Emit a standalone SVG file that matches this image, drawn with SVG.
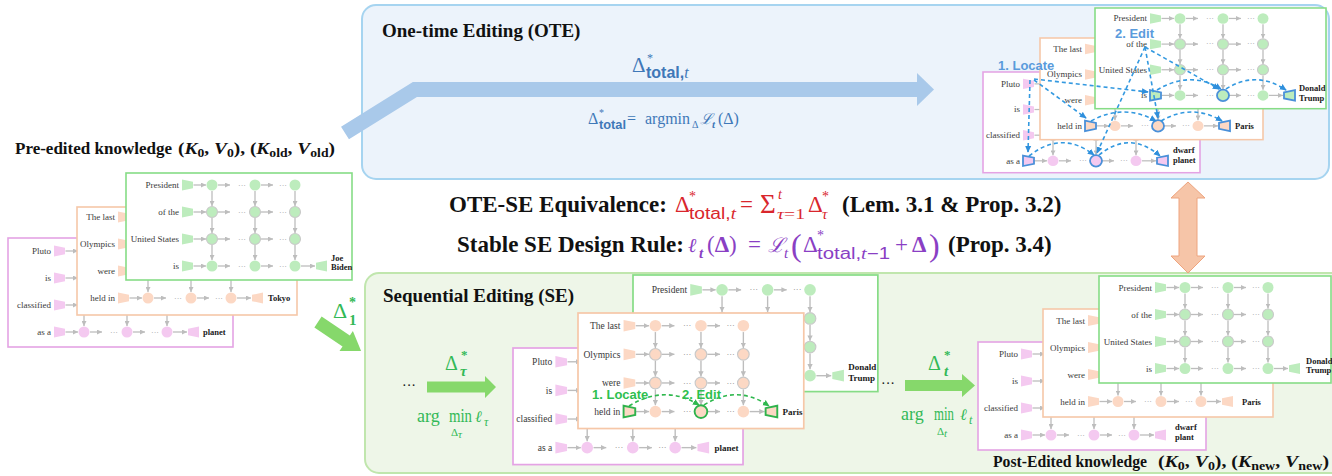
<svg xmlns="http://www.w3.org/2000/svg" xmlns:xlink="http://www.w3.org/1999/xlink" width="1332" height="476" viewBox="0 0 1332 476">
<style>
.lbl{font-family:"Liberation Serif",serif;font-size:9px;fill:#3a3a3a;text-anchor:end}
.out{font-family:"Liberation Serif",serif;font-size:8.5px;font-weight:bold;fill:#1a1a1a}
.ga{stroke:#bdbdbd;stroke-width:1.3;fill:none;marker-end:url(#ah)}
.dots{font-family:"Liberation Sans",sans-serif;font-size:8px;fill:#a0a0a0;text-anchor:middle}
.cm{stroke:#c9c9c9;stroke-width:1.1}
.cg{fill:#fff;stroke:#86dc86;stroke-width:1.6}
.co{fill:#fff;stroke:#f6c7a8;stroke-width:1.6}
.cp{fill:#fff;stroke:#e4a3e4;stroke-width:1.6}
.hb{fill:none;stroke:#4a90d9;stroke-width:1.8}
.hg{fill:none;stroke:#2fb34c;stroke-width:1.8}
.db{fill:none;stroke:#3399e0;stroke-width:1.6;stroke-dasharray:4 3;marker-end:url(#abl)}
.dg{fill:none;stroke:#2fb84e;stroke-width:1.6;stroke-dasharray:4 3;marker-end:url(#agr)}
.hdr{font-family:"Liberation Serif",serif;font-weight:bold;font-size:19px;fill:#111}
.bt{font-family:"Liberation Serif",serif;font-weight:bold;font-size:23px;fill:#111}
.kt{font-family:"Liberation Serif",serif;font-weight:bold;font-size:17px;fill:#111}
.ms{font-family:"Liberation Serif",serif}
.sf{font-family:"Liberation Sans",sans-serif}
.sc{font-family:"DejaVu Serif","Liberation Serif",serif}
.stepB{font-family:"Liberation Sans",sans-serif;font-weight:bold;font-size:13px;fill:#5a9bdc}
.stepG{font-family:"Liberation Sans",sans-serif;font-weight:bold;font-size:13px;fill:#2fbf4f}
.blue{fill:#3f78b8}
.red{fill:#d9262c}
.pur{fill:#8a3fc4}
.grn{fill:#33b957}
</style>
<defs>
<marker id="ah" viewBox="0 0 6 6" refX="6" refY="3" markerWidth="5" markerHeight="5" markerUnits="userSpaceOnUse" orient="auto"><path d="M0,0 L6,3 L0,6 z" fill="#bdbdbd"/></marker>
<marker id="abl" viewBox="0 0 8 8" refX="7" refY="4" markerWidth="7" markerHeight="7" markerUnits="userSpaceOnUse" orient="auto"><path d="M0,0.5 L8,4 L0,7.5 z" fill="#2f8fdc"/></marker>
<marker id="agr" viewBox="0 0 8 8" refX="7" refY="4" markerWidth="7" markerHeight="7" markerUnits="userSpaceOnUse" orient="auto"><path d="M0,0.5 L8,4 L0,7.5 z" fill="#2fb84e"/></marker>
<polygon id="pin" points="0,-5.5 11,-3.2 11,3.2 0,5.5"/>
<polygon id="pout" points="0,-3.2 11,-5.5 11,5.5 0,3.2"/>
<g id="rT">
<use href="#pin"/>
<line class="ga" x1="11.5" y1="0" x2="24" y2="0"/>
<circle cx="30" cy="0" r="5.5"/>
<line class="ga" x1="36" y1="0" x2="48" y2="0"/>
<text class="dots" x="60" y="2.5">···</text>
<circle cx="73" cy="0" r="5.5"/>
<line class="ga" x1="79" y1="0" x2="91" y2="0"/>
<text class="dots" x="101" y="2.5">···</text>
<circle cx="113" cy="0" r="5.5"/>
</g>
<g id="rM">
<use href="#pin"/>
<line class="ga" x1="11.5" y1="0" x2="24" y2="0"/>
<circle class="cm" cx="30" cy="0" r="5.5"/>
<line class="ga" x1="36" y1="0" x2="48" y2="0"/>
<text class="dots" x="60" y="2.5">···</text>
<circle class="cm" cx="73" cy="0" r="5.5"/>
<line class="ga" x1="79" y1="0" x2="91" y2="0"/>
<text class="dots" x="101" y="2.5">···</text>
<circle class="cm" cx="113" cy="0" r="5.5"/>
</g>
<g id="rO">
<use href="#rT"/>
<line class="ga" x1="119" y1="0" x2="133" y2="0"/>
<use href="#pout" x="134"/>
</g>
<g id="vc">
<line class="ga" x1="30" y1="6" x2="30" y2="21"/>
<line class="ga" x1="30" y1="33" x2="30" y2="48"/>
<line class="ga" x1="30" y1="60" x2="30" y2="75"/>
<line class="ga" x1="73" y1="6" x2="73" y2="21"/>
<line class="ga" x1="73" y1="33" x2="73" y2="48"/>
<line class="ga" x1="73" y1="60" x2="73" y2="75"/>
<line class="ga" x1="113" y1="6" x2="113" y2="21"/>
<line class="ga" x1="113" y1="33" x2="113" y2="48"/>
<line class="ga" x1="113" y1="60" x2="113" y2="75"/>
</g>
<g id="bG">
<use href="#vc" x="55" y="13"/>
<g fill="#bdecbd">
<use href="#rT" x="55" y="13"/>
<use href="#rM" x="55" y="40"/>
<use href="#rM" x="55" y="67"/>
<use href="#rO" x="55" y="94"/>
</g>
<text class="lbl" x="52" y="16">President</text>
<text class="lbl" x="52" y="43">of the</text>
<text class="lbl" x="52" y="70">United States</text>
<text class="lbl" x="52" y="97">is</text>
</g>
<g id="bO">
<use href="#vc" x="43" y="13"/>
<g fill="#fcd8c4">
<use href="#rT" x="43" y="13"/>
<use href="#rM" x="43" y="40"/>
<use href="#rM" x="43" y="67"/>
<use href="#rO" x="43" y="94"/>
</g>
<text class="lbl" x="40" y="16">The last</text>
<text class="lbl" x="40" y="43">Olympics</text>
<text class="lbl" x="40" y="70">were</text>
<text class="lbl" x="40" y="97">held in</text>
</g>
<g id="bP">
<use href="#vc" x="43" y="13"/>
<g fill="#f4c9f0">
<use href="#rT" x="43" y="13"/>
<use href="#rM" x="43" y="40"/>
<use href="#rM" x="43" y="67"/>
<use href="#rO" x="43" y="94"/>
</g>
<text class="lbl" x="40" y="16">Pluto</text>
<text class="lbl" x="40" y="43">is</text>
<text class="lbl" x="40" y="70">classified</text>
<text class="lbl" x="40" y="97">as a</text>
</g>
</defs>

<g id="panels">
<rect id="ote-panel" x="362" y="5" width="967" height="174" rx="14" fill="#ecf3fb" stroke="#a6d4f0" stroke-width="2"/>
<rect id="se-panel" x="365" y="273" width="1000" height="200" rx="14" fill="#eef6e8" stroke="#c0e6ad" stroke-width="2"/>
</g>

<g id="pre-edited">
<g id="pre-pink" transform="translate(8,238)"><rect class="cp" width="225" height="109"/><use href="#bP" x="3"/><text class="out" x="195" y="97">planet</text></g>
<g id="pre-orange" transform="translate(77,207)"><rect class="co" width="220" height="108"/><use href="#bO" x="-2" y="-3"/><text class="out" x="191" y="94">Tokyo</text></g>
<g id="pre-green" transform="translate(126,173)"><rect class="cg" width="226" height="107"/><use href="#bG" x="1" y="-1"/><text class="out" x="205" y="88">Joe</text><text class="out" x="205" y="97">Biden</text></g>
</g>

<g id="ote-cards">
<g id="ote-pink" transform="translate(983,72) scale(1,0.95)"><rect class="cp" width="217" height="106"/><use href="#bP" x="-3" y="-0.5"/><text class="out" x="190" y="85">dwarf</text><text class="out" x="190" y="96">planet</text>
<g class="hb"><use href="#pin" x="40" y="93.5"/><circle cx="113" cy="93.5" r="6"/><use href="#pout" x="174" y="93.5"/></g></g>
<g id="ote-orange" transform="translate(1040,38) scale(1,0.95)"><rect class="co" width="223" height="107"/><use href="#bO" x="2" y="-1.5"/><text class="out" x="195" y="95.5">Paris</text>
<g class="hb"><use href="#pin" x="45" y="92.5"/><circle cx="118" cy="92.5" r="6"/><use href="#pout" x="179" y="92.5"/></g></g>
<g id="ote-green" transform="translate(1095,8) scale(1,0.95)"><rect class="cg" width="231" height="106"/><use href="#bG" y="-2"/><text class="out" x="204" y="87">Donald</text><text class="out" x="204" y="98">Trump</text>
<g class="hb"><use href="#pin" x="55" y="92"/><circle cx="128" cy="92" r="6"/><use href="#pout" x="189" y="92"/></g></g>
</g>

<g id="se-cards">
<g id="se-green" transform="translate(633,275) scale(1.06)"><rect class="cg" width="231" height="110"/><use href="#bG" x="-1" y="1"/><text class="out" x="203" y="90">Donald</text><text class="out" x="203" y="100">Trump</text></g>
<g id="se-pink" transform="translate(513,348) scale(1.06)"><rect class="cp" width="217" height="110"/><use href="#bP" x="-3"/><text class="out" x="190" y="97">planet</text></g>
<g id="se-orange" transform="translate(578,313) scale(1.06)"><rect class="co" width="213" height="109"/><use href="#bO" y="-1"/><text class="out" x="193" y="96">Paris</text>
<g class="hg"><use href="#pin" x="43" y="93"/><circle cx="116" cy="93" r="6"/><use href="#pout" x="177" y="93"/></g></g>
</g>

<g id="post-cards">
<g id="post-pink" transform="translate(978,342)"><rect class="cp" width="228" height="108"/><use href="#bP" y="-1"/><text class="out" x="197" y="88">dwarf</text><text class="out" x="197" y="98">plant</text></g>
<g id="post-orange" transform="translate(1043,309)"><rect class="co" width="230" height="108"/><use href="#bO" x="2" y="-1.5"/><text class="out" x="199" y="95.5">Paris</text></g>
<g id="post-green" transform="translate(1099,276)"><rect class="cg" width="232" height="107"/><use href="#bG" x="1" y="-1.5"/><text class="out" x="207" y="88" font-size="8">Donald</text><text class="out" x="207" y="97" font-size="8">Trump</text></g>
</g>

<g id="connectors">
<polyline points="345,133 415,89.5 918,89.5" fill="none" stroke="#a9c9ea" stroke-width="15" stroke-linejoin="miter"/>
<polygon points="917,73 934,89.5 917,106" fill="#a9c9ea"/>
<polygon transform="translate(318,322) rotate(34)" points="0,-6.5 34,-6.5 34,-12 52,0 34,12 34,6.5 0,6.5" fill="#86d86b"/>
<polygon points="427,381.5 485,381.5 485,376 496,387 485,398 485,392.5 427,392.5" fill="#86d86b"/>
<polygon points="905,380 962,380 962,374 975,385.5 962,397 962,391 905,391" fill="#86d86b"/>
<polygon points="1188,182 1205,198 1197,198 1197,256 1205,256 1188,273 1171,256 1179,256 1179,198 1171,198" fill="#f6c5a8" stroke="#eea47e" stroke-width="1"/>
<path class="db" d="M1157,90 Q1190,70 1221,89"/>
<path class="db" d="M1226,89 Q1256,70 1286,90"/>
<path class="db" d="M1091,121 Q1124,103 1156,121"/>
<path class="db" d="M1161,121 Q1192,103 1222,121"/>
<path class="db" d="M1029,156 Q1062,130 1094,155"/>
<path class="db" d="M1099,155 Q1130,130 1160,156"/>
<path class="db" d="M1034,79 L1148,92"/>
<path class="db" d="M1034,80 L1086,118"/>
<path class="db" d="M1030,80 L1028,152"/>
<path class="db" d="M1145,47 L1219,89"/>
<path class="db" d="M1145,47 L1158,118"/>
<path class="db" d="M1145,47 L1097,153"/>
<path class="dg" d="M629,406 Q665,384 699,405"/>
<path class="dg" d="M704,405 Q737,384 769,406"/>
</g>

<g id="labels">
<text class="hdr" x="382" y="37">One-time Editing (OTE)</text>
<text class="hdr" x="383" y="302">Sequential Editing (SE)</text>
<text class="kt" x="15" y="154" textLength="157" lengthAdjust="spacingAndGlyphs">Pre-edited knowledge</text>
<text class="kt" x="178" y="154" textLength="157" lengthAdjust="spacingAndGlyphs">(<tspan font-style="italic">K</tspan><tspan font-size="12" dy="3">0</tspan><tspan dy="-3">, </tspan><tspan font-style="italic">V</tspan><tspan font-size="12" dy="3">0</tspan><tspan dy="-3">), (</tspan><tspan font-style="italic">K</tspan><tspan font-size="12" dy="3">old</tspan><tspan dy="-3">, </tspan><tspan font-style="italic">V</tspan><tspan font-size="12" dy="3">old</tspan><tspan dy="-3">)</tspan></text>
<text class="kt" x="993" y="467" textLength="154" lengthAdjust="spacingAndGlyphs">Post-Edited knowledge</text>
<text class="kt" x="1158" y="467" textLength="171" lengthAdjust="spacingAndGlyphs">(<tspan font-style="italic">K</tspan><tspan font-size="12" dy="3">0</tspan><tspan dy="-3">, </tspan><tspan font-style="italic">V</tspan><tspan font-size="12" dy="3">0</tspan><tspan dy="-3">), (</tspan><tspan font-style="italic">K</tspan><tspan font-size="12" dy="3">new</tspan><tspan dy="-3">, </tspan><tspan font-style="italic">V</tspan><tspan font-size="12" dy="3">new</tspan><tspan dy="-3">)</tspan></text>

<text class="ms blue" x="632" y="72" font-size="21">Δ</text>
<text class="ms blue" x="647" y="62" font-size="12">*</text>
<text class="sf blue" x="646" y="78" font-size="16" font-weight="bold">total,<tspan class="ms" font-style="italic" font-weight="normal">t</tspan></text>
<text class="ms blue" x="588" y="124" font-size="16">Δ</text>
<text class="ms blue" x="599" y="116" font-size="10">*</text>
<text class="sf blue" x="599" y="129" font-size="12" font-weight="bold" textLength="27" lengthAdjust="spacingAndGlyphs">total</text>
<text class="ms blue" x="627" y="124" font-size="16">=</text>
<text class="ms blue" x="645" y="124" font-size="16">argmin</text>
<text class="ms blue" x="692" y="128" font-size="10">Δ</text>
<text class="sc blue" x="700" y="124" font-size="15" font-style="italic">ℒ</text>
<text class="ms blue" x="712" y="128" font-size="11" font-weight="bold" font-style="italic">t</text>
<text class="ms blue" x="718" y="124" font-size="16">(Δ)</text>

<text class="bt" x="449" y="212">OTE-SE Equivalence:</text>
<text class="ms red" x="675" y="212" font-size="23">Δ</text>
<text class="ms red" x="689" y="201" font-size="14">*</text>
<text class="sf red" x="689" y="219" font-size="16" textLength="47" lengthAdjust="spacingAndGlyphs">total,<tspan class="ms" font-style="italic">t</tspan></text>
<text class="ms red" x="740" y="212" font-size="23">=</text>
<text class="ms red" x="760" y="213" font-size="27">Σ</text>
<text class="ms red" x="778" y="199" font-size="14" font-style="italic">t</text>
<text class="ms red" x="777" y="219" font-size="15" textLength="28" lengthAdjust="spacingAndGlyphs"><tspan font-style="italic">τ</tspan>=1</text>
<text class="ms red" x="808" y="212" font-size="23">Δ</text>
<text class="ms red" x="822" y="201" font-size="14">*</text>
<text class="ms red" x="822" y="219" font-size="15" font-style="italic">τ</text>
<text class="bt" x="842" y="212">(Lem. 3.1 &amp; Prop. 3.2)</text>

<text class="bt" x="457" y="252">Stable SE Design Rule:</text>
<text class="sc pur" x="688" y="252" font-size="20" font-style="italic">ℓ</text>
<text class="ms pur" x="699" y="258" font-size="15" font-weight="bold" font-style="italic">t</text>
<text class="ms pur" x="707" y="252" font-size="23">(<tspan font-weight="bold">Δ</tspan>)</text>
<text class="ms pur" x="748" y="252" font-size="23">=</text>
<text class="sc pur" x="768" y="252" font-size="20" font-style="italic">ℒ</text>
<text class="ms pur" x="784" y="258" font-size="15" font-style="italic">t</text>
<text class="ms pur" x="791" y="256" font-size="32">(</text>
<text class="ms pur" x="803" y="252" font-size="23">Δ</text>
<text class="ms pur" x="817" y="240" font-size="14">*</text>
<text class="sf pur" x="817" y="259" font-size="16" textLength="73" lengthAdjust="spacingAndGlyphs">total,<tspan class="ms" font-style="italic">t</tspan>−1</text>
<text class="ms pur" x="895" y="252" font-size="23">+</text>
<text class="ms pur" x="912" y="252" font-size="23" font-weight="bold">Δ</text>
<text class="ms pur" x="929" y="256" font-size="32">)</text>
<text class="bt" x="948" y="252">(Prop. 3.4)</text>

<text class="ms grn" x="333" y="318" font-size="22">Δ</text>
<text class="ms grn" x="349" y="307" font-size="14" font-weight="bold">*</text>
<text class="ms grn" x="349" y="325" font-size="15" font-weight="bold">1</text>

<text class="ms" x="402" y="390" font-size="14" fill="#111">···</text>
<text class="ms grn" x="445" y="370" font-size="20">Δ</text>
<text class="ms grn" x="461" y="359" font-size="13" font-weight="bold">*</text>
<text class="ms grn" x="460" y="376" font-size="15" font-weight="bold" font-style="italic">τ</text>
<text class="ms grn" x="417" y="422" font-size="18">arg</text>
<text class="ms grn" x="449" y="422" font-size="18" textLength="23" lengthAdjust="spacingAndGlyphs">min</text>
<text class="ms grn" x="451" y="436" font-size="11">Δ<tspan font-style="italic" dy="2">τ</tspan></text>
<text class="sc grn" x="475" y="422" font-size="16" font-style="italic">ℓ</text>
<text class="ms grn" x="484" y="426" font-size="12" font-style="italic">τ</text>

<text class="ms" x="881" y="388" font-size="14" fill="#111">···</text>
<text class="ms grn" x="928" y="370" font-size="20">Δ</text>
<text class="ms grn" x="944" y="359" font-size="13" font-weight="bold">*</text>
<text class="ms grn" x="944" y="376" font-size="15" font-weight="bold" font-style="italic">t</text>
<text class="ms grn" x="901" y="420" font-size="18">arg</text>
<text class="ms grn" x="934" y="420" font-size="18" textLength="20" lengthAdjust="spacingAndGlyphs">min</text>
<text class="ms grn" x="937" y="435" font-size="11">Δ<tspan font-style="italic" dy="2">t</tspan></text>
<text class="sc grn" x="960" y="420" font-size="16" font-style="italic">ℓ</text>
<text class="ms grn" x="969" y="424" font-size="12" font-style="italic">t</text>

<text class="stepB" x="998" y="70">1. Locate</text>
<text class="stepB" x="1115" y="38">2. Edit</text>
<text class="stepG" x="592" y="399">1. Locate</text>
<text class="stepG" x="682" y="399">2. Edit</text>
</g>
</svg>
